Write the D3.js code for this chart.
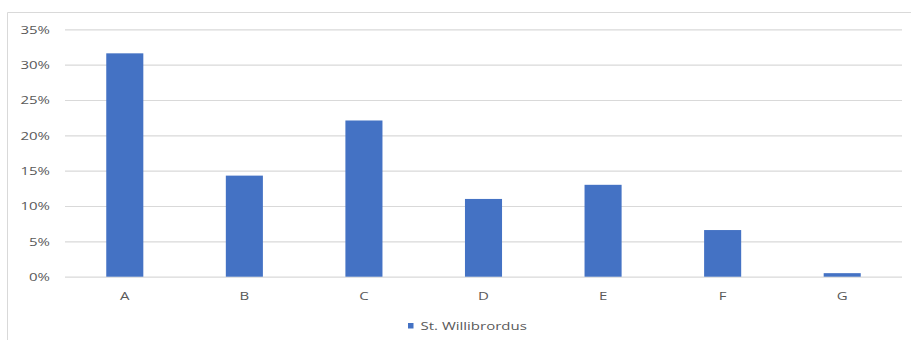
<!DOCTYPE html>
<html>
<head>
<meta charset="utf-8">
<script src="https://cdn.jsdelivr.net/npm/d3@7"></script>
<style>
  html, body { margin: 0; padding: 0; background: #fff; }
  svg { display: block; }
  text { font-family: "Open Sans", "Noto Sans", sans-serif; fill: #595959; }
</style>
</head>
<body>
<svg id="chart" width="911" height="340"></svg>
<script>
// Share of responses per category
const categories = ["A", "B", "C", "D", "E", "F", "G"];
const seriesName = "St. Willibrordus";
const values = [0.316, 0.143, 0.221, 0.110, 0.130, 0.066, 0.005];
const yTicks = [0, 0.05, 0.10, 0.15, 0.20, 0.25, 0.30, 0.35];

const svg = d3.select("#chart");
const W = 911, H = 340;
const plot = { left: 65, right: 902, top: 29.3, bottom: 276.7 };
const stretch = 1.5; // wide glyphs used throughout the chart's text

// chart frame (left and top edges only are in view)
svg.append("path")
  .attr("d", `M7.5,${H} V12.5 H${W}`)
  .attr("fill", "none")
  .attr("stroke", "#d9d9d9")
  .attr("stroke-width", 1);

const x = d3.scaleBand()
  .domain(categories)
  .range([plot.left, plot.right])
  .paddingInner(0.69)
  .paddingOuter(0.345);

const y = d3.scaleLinear()
  .domain([0, 0.35])
  .range([plot.bottom, plot.top]);

// gridlines + y labels via axis
const yAxis = d3.axisLeft(y)
  .tickValues(yTicks)
  .tickFormat(d3.format(".0%"))
  .tickSize(-(plot.right - plot.left))
  .tickPadding(0);

const gy = svg.append("g")
  .attr("transform", `translate(${plot.left},0)`)
  .call(yAxis);
gy.select(".domain").remove();
gy.selectAll(".tick line")
  .attr("stroke", "#d9d9d9")
  .attr("stroke-width", 1.2);
gy.selectAll(".tick text").each(function () {
  const t = d3.select(this);
  t.attr("x", null).attr("dy", null)
    .attr("text-anchor", "end")
    .attr("dominant-baseline", "central")
    .attr("font-size", 10)
    .attr("fill", "#595959")
    .attr("transform", `translate(${50 - plot.left},0) scale(${stretch},1)`);
});

// bars
svg.append("g").selectAll("rect")
  .data(values)
  .join("rect")
  .attr("x", (d, i) => x(categories[i]))
  .attr("width", x.bandwidth())
  .attr("y", d => y(d))
  .attr("height", d => y(0) - y(d))
  .attr("fill", "#4472c4");

// category labels
const xAxis = d3.axisBottom(x).tickSize(0).tickPadding(0);
const gx = svg.append("g")
  .attr("transform", `translate(0,${plot.bottom})`)
  .call(xAxis);
gx.select(".domain").remove();
gx.selectAll(".tick text").each(function () {
  d3.select(this)
    .attr("y", null).attr("dy", null)
    .attr("text-anchor", "middle")
    .attr("font-size", 10)
    .attr("fill", "#595959")
    .attr("transform", `translate(0,23.5) scale(${stretch},1)`);
});

// legend
const lg = svg.append("g").attr("transform", "translate(408,323)");
lg.append("rect").attr("width", 5.5).attr("height", 5.5).attr("fill", "#4472c4");
lg.append("text")
  .attr("transform", `translate(12.5,6.5) scale(${stretch},1)`)
  .attr("font-size", 10)
  .text(seriesName);
</script>
</body>
</html>
